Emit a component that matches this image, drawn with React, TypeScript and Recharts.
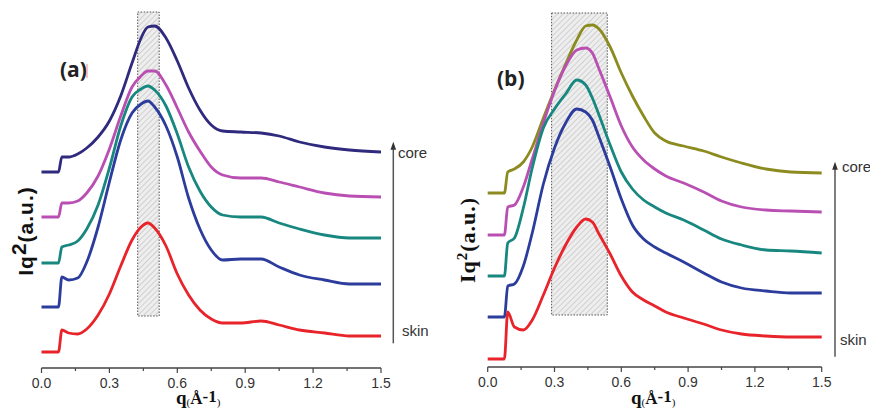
import { LineChart, Line, XAxis, YAxis, ReferenceArea } from "recharts";

// scattering vector q (Å^-1), shared sampling for every profile
const Q = [0, 0.075, 0.09, 0.12, 0.16, 0.2, 0.25, 0.3, 0.35, 0.4, 0.44, 0.47, 0.5, 0.55, 0.6, 0.65, 0.7, 0.75, 0.8, 0.88, 0.97, 1.05, 1.14, 1.25, 1.36, 1.5];
const TICKS = [0, 0.15, 0.3, 0.45, 0.6, 0.75, 0.9, 1.05, 1.2, 1.35, 1.5];
const MAJOR = [0, 0.3, 0.6, 0.9, 1.2, 1.5];

// panel (a): Lorentz-corrected profiles, stacked skin -> core (a.u., offsets included)
const aCore = [196, 196, 211, 211, 214, 220, 231, 247, 272, 305, 330, 341, 342, 330, 307, 280, 258, 243, 237, 236, 235, 232, 226, 221, 218, 216];
const aMid3 = [151, 151, 165, 165, 167, 175, 192, 219, 252, 281, 292, 297, 297, 283, 260, 236, 217, 201, 193, 190, 190, 186, 181, 175, 172, 171];
const aMid2 = [105, 105, 121, 123, 127, 139, 163, 200, 242, 271, 279, 282, 278, 262, 234, 201, 177, 161, 153, 151, 151, 145, 139, 133, 130, 130];
const aMid1 = [61, 61, 91, 88, 90, 106, 141, 186, 228, 255, 264, 267, 261, 242, 211, 170, 139, 118, 108, 109, 109, 101, 93, 88, 84, 84];
const aSkin = [16, 16, 38, 35, 34, 39, 53, 74, 102, 128, 141, 145, 140, 122, 94, 73, 58, 49, 45, 45, 47, 43, 38, 35, 32, 32];

// panel (b)
const bCore = [174, 174, 195, 198, 205, 220, 249, 277, 303, 327, 341, 342, 338, 320, 294, 271, 251, 234, 226, 221, 216, 210, 204, 198, 195, 194];
const bMid3 = [132, 132, 160, 162, 180, 208, 244, 276, 301, 317, 319, 314, 298, 270, 241, 220, 207, 198, 191, 184, 175, 166, 160, 157, 156, 155];
const bMid2 = [91, 91, 124, 129, 159, 199, 239, 258, 273, 287, 282, 269, 252, 222, 195, 178, 167, 160, 154, 147, 137, 128, 122, 117, 116, 114];
const bMid1 = [50, 50, 81, 83, 101, 134, 183, 219, 244, 258, 255, 247, 230, 200, 168, 142, 128, 120, 114, 105, 94, 85, 79, 76, 74, 74];
const bSkin = [8, 8, 55, 40, 37, 47, 72, 99, 122, 140, 148, 145, 133, 113, 91, 75, 67, 61, 55, 49, 43, 37, 33, 31, 30, 30];

const A_COLORS = ["#2f2a7e", "#b94fb3", "#17877f", "#2c3c9c", "#e8232a"];
const B_COLORS = ["#8c8b1f", "#b94fb3", "#17877f", "#2c3c9c", "#e8232a"];

// long-period band (q range, intensity range)
const A_BAND = { x1: 0.425, x2: 0.52, y1: 52, y2: 356 };
const B_BAND = { x1: 0.287, x2: 0.537, y1: 52, y2: 354 };

const SANS = "'Liberation Sans', Arial, sans-serif";
const SERIF = "'Liberation Serif', 'Times New Roman', serif";

const toRows = (series: number[][]) =>
  Q.map((q, i) => {
    const row: Record<string, number> = { q };
    series.forEach((s, k) => (row["s" + k] = s[i]));
    return row;
  });

function QTick(props: any) {
  const { x, y, payload } = props;
  const major = MAJOR.some(m => Math.abs(m - payload.value) < 1e-6);
  return (
    <g>
      <line x1={x} x2={x} y1={y} y2={y + (major ? 5 : 3)} stroke="#444" strokeWidth={1.2} />
      {major && (
        <text x={x} y={y + 20} textAnchor="middle" fontSize={14} fill="#333" fontFamily={SANS}>
          {payload.value.toFixed(1)}
        </text>
      )}
    </g>
  );
}

function Panel({ left, margin, rows, colors, band, id }: {
  left: number;
  margin: { top: number; right: number; bottom: number; left: number };
  rows: Record<string, number>[];
  colors: string[];
  band: { x1: number; x2: number; y1: number; y2: number };
  id: string;
}) {
  return (
    <div style={{ position: "absolute", left, top: 0 }}>
      <LineChart width={435} height={416} data={rows} margin={margin}>
        <defs>
          <pattern id={id} width={4} height={4} patternUnits="userSpaceOnUse" patternTransform="rotate(45)">
            <rect width={4} height={4} fill="#eeeeee" />
            <line x1={0} y1={0} x2={0} y2={4} stroke="#c4c4c4" strokeWidth={1.4} />
          </pattern>
        </defs>
        <XAxis dataKey="q" type="number" domain={[0, 1.5]} ticks={TICKS} interval={0}
          tickSize={0} tickMargin={0} tickLine={false} height={40}
          axisLine={{ stroke: "#444", strokeWidth: 1.5 }} tick={<QTick />} />
        <YAxis hide type="number" domain={[0, 360]} />
        <ReferenceArea x1={band.x1} x2={band.x2} y1={band.y1} y2={band.y2}
          fill={`url(#${id})`} fillOpacity={1} stroke="#555" strokeWidth={1} strokeDasharray="1.5 1.5" />
        {colors.map((c, k) => (
          <Line key={k} type="monotone" dataKey={"s" + k} stroke={c} strokeWidth={2.8}
            dot={false} isAnimationActive={false} />
        ))}
      </LineChart>
    </div>
  );
}

function Arrow({ x, top, bottom }: { x: number; top: number; bottom: number }) {
  return (
    <g>
      <line x1={x} x2={x} y1={top + 6} y2={bottom} stroke="#555" strokeWidth={1.5} />
      <path d={`M${x},${top} L${x - 2.8},${top + 8} L${x + 2.8},${top + 8} Z`} fill="#333" />
    </g>
  );
}

export default function App() {
  const rowsA = toRows([aCore, aMid3, aMid2, aMid1, aSkin]);
  const rowsB = toRows([bCore, bMid3, bMid2, bMid1, bSkin]);
  return (
    <div style={{ position: "absolute", left: 0, top: 0, width: 870, height: 416, background: "#fff", overflow: "hidden" }}>
      <Panel left={0} margin={{ top: 8, right: 54, bottom: 8, left: 41.5 }} rows={rowsA} colors={A_COLORS} band={A_BAND} id="hatchA" />
      <Panel left={435} margin={{ top: 7, right: 48.3, bottom: 9, left: 52.7 }} rows={rowsB} colors={B_COLORS} band={B_BAND} id="hatchB" />
      <svg width={870} height={416} style={{ position: "absolute", left: 0, top: 0, pointerEvents: "none" }}>
        {/* panel letters */}
        <text x={60} y={77} fontSize={21} fontWeight="bold" fill="#222" fontFamily="'Open Sans', sans-serif">(a)</text>
        <line x1={87} x2={87} y1={64} y2={78} stroke="#f08a8a" strokeWidth={1} />
        <text x={497} y={86} fontSize={21} fontWeight="bold" fill="#222" fontFamily="'Open Sans', sans-serif">(b)</text>

        {/* y titles */}
        <text x={33} y={231} transform="rotate(-90 33 231)" textAnchor="middle" fontSize={21}
          fontWeight="bold" fill="#111" fontFamily={SANS} letterSpacing={1}>
          Iq<tspan dy={-7}>2</tspan><tspan dy={7}>(a.u.)</tspan>
        </text>
        <text x={475} y={240} transform="rotate(-90 475 240)" textAnchor="middle" fontSize={22}
          fontWeight="bold" fill="#111" fontFamily={SERIF} letterSpacing={1}>
          Iq<tspan dy={-8} fontSize={15}>2</tspan><tspan dy={8}>(a.u.)</tspan>
        </text>

        {/* x titles */}
        {[176, 631].map(x => (
          <text key={x} x={x} y={404} fill="#111" fontFamily={SERIF}>
            <tspan fontSize={19} fontWeight="bold">q</tspan>
            <tspan fontSize={11} dy={2}>(</tspan>
            <tspan fontSize={17} fontWeight="bold" dy={-2}>Å</tspan>
            <tspan fontSize={17} fontWeight="bold" dy={-2}>-1</tspan>
            <tspan fontSize={11} dy={4}>)</tspan>
          </text>
        ))}

        {/* skin -> core arrows */}
        <Arrow x={393.3} top={141.7} bottom={343.3} />
        <text x={398} y={158} fontSize={15} fill="#333" fontFamily={SANS}>core</text>
        <text x={402} y={336} fontSize={15} fill="#333" fontFamily={SANS}>skin</text>
        <Arrow x={835} top={161.7} bottom={356.7} />
        <text x={842} y={172} fontSize={15} fill="#333" fontFamily={SANS}>core</text>
        <text x={840} y={345} fontSize={15} fill="#333" fontFamily={SANS}>skin</text>
      </svg>
    </div>
  );
}
